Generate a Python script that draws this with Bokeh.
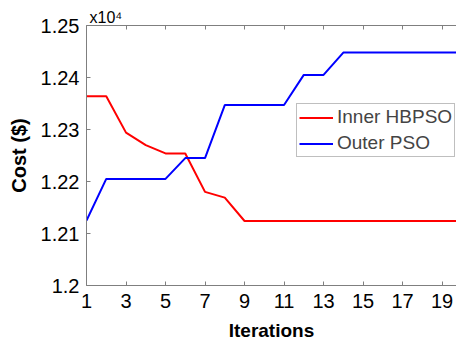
from bokeh.plotting import figure
from bokeh.models import (Range1d, LinearAxis, FixedTicker, Legend, LegendItem,
                          CustomJSTickFormatter, Title)
from bokeh.embed import file_html
from bokeh.resources import INLINE

# Data (cost values in units of x10^4 $)
iterations = list(range(1, 21))
inner_hbpso = [1.2364, 1.2364, 1.2294, 1.2270, 1.2254, 1.2254, 1.2180, 1.2169,
               1.2124, 1.2124, 1.2124, 1.2124, 1.2124, 1.2124, 1.2124, 1.2124,
               1.2124, 1.2124, 1.2124, 1.2124]
outer_pso = [1.2125, 1.2205, 1.2205, 1.2205, 1.2205, 1.2245, 1.2245, 1.2347,
             1.2347, 1.2347, 1.2347, 1.2405, 1.2405, 1.2448, 1.2448, 1.2448,
             1.2448, 1.2448, 1.2448, 1.2448]
x_ticks = [1, 3, 5, 7, 9, 11, 13, 15, 17, 19]
y_ticks = [1.20, 1.21, 1.22, 1.23, 1.24, 1.25]
series_names = ["Inner HBPSO", "Outer PSO"]

FONT = "Liberation Sans"
GRAY = "#7f7f7f"

p = figure(width=456, height=346, output_backend="svg", toolbar_location=None,
           x_range=Range1d(1, 19.73), y_range=Range1d(1.20, 1.25),
           min_border_left=86, min_border_top=25, min_border_bottom=61,
           min_border_right=0)
p.outline_line_color = None
p.xgrid.visible = False
p.ygrid.visible = False

r1 = p.line(iterations, inner_hbpso, line_color="#ff0000", line_width=2)
r2 = p.line(iterations, outer_pso, line_color="#0000ff", line_width=2)

# bottom axis
xa = p.xaxis[0]
xa.ticker = FixedTicker(ticks=x_ticks)
xa.major_tick_in = 4
xa.major_tick_out = 0
xa.minor_tick_line_color = None
xa.axis_line_color = GRAY
xa.major_tick_line_color = GRAY
xa.major_label_text_font = FONT
xa.major_label_text_font_size = "20px"
xa.major_label_text_color = "black"
xa.major_label_standoff = 8
xa.axis_label = "Iterations"
xa.axis_label_text_font = FONT
xa.axis_label_text_font_size = "19px"
xa.axis_label_text_font_style = "bold"
xa.axis_label_text_color = "black"
xa.axis_label_standoff = 9

# left axis
ya = p.yaxis[0]
ya.ticker = FixedTicker(ticks=y_ticks)
ya.formatter = CustomJSTickFormatter(code="return (Math.round(tick*100)/100).toString();")
ya.major_tick_in = 4
ya.major_tick_out = 0
ya.minor_tick_line_color = None
ya.axis_line_color = GRAY
ya.major_tick_line_color = GRAY
ya.major_label_text_font = FONT
ya.major_label_text_font_size = "20px"
ya.major_label_text_color = "black"
ya.major_label_standoff = 7
ya.axis_label = "Cost ($)"
ya.axis_label_text_font = FONT
ya.axis_label_text_font_size = "20px"
ya.axis_label_text_font_style = "bold"
ya.axis_label_text_color = "black"
ya.axis_label_standoff = 8

# top axis (box line with inward ticks, no labels)
top = LinearAxis(ticker=FixedTicker(ticks=x_ticks), major_tick_in=4, major_tick_out=0,
                 minor_tick_line_color=None, axis_line_color=GRAY,
                 major_tick_line_color=GRAY, major_label_text_color=None,
                 major_label_text_font_size="1px", major_label_standoff=0)
p.add_layout(top, "above")

# exponent marker above the axis
p.add_layout(Title(text="x10\u2074", align="left", offset=3, standoff=0,
                   text_font=FONT, text_font_size="16px", text_font_style="normal",
                   text_color="black"), "above")

legend = Legend(items=[LegendItem(label=series_names[0], renderers=[r1]),
                       LegendItem(label=series_names[1], renderers=[r2])],
                location=(210, 128), padding=2, spacing=4, margin=0,
                glyph_width=34, glyph_height=19, label_height=19, label_standoff=4,
                label_text_font=FONT, label_text_font_size="19px",
                border_line_color=GRAY, border_line_width=1,
                background_fill_color="white", background_fill_alpha=1)
p.add_layout(legend, "center")

open("out.html", "w").write(file_html(p, INLINE))
